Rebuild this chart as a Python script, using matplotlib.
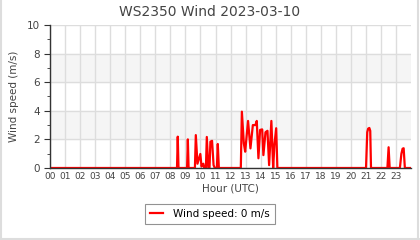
import matplotlib
matplotlib.use("Agg")
import matplotlib.pyplot as plt
from matplotlib.lines import Line2D

# wind speed readings (hour of day, m/s), zero outside the listed bursts
hours = [0, 8.44, 8.49, 8.54, 9.11, 9.16, 9.21, 9.63, 9.69, 9.8, 9.99, 10.07, 10.19, 10.25,
         10.36, 10.42, 10.52, 10.6, 10.66, 10.77, 10.87, 10.95, 11.09, 11.15, 11.22,
         12.68, 12.75, 12.88, 12.97, 13.16, 13.32, 13.48, 13.58, 13.65, 13.74, 13.85, 13.96,
         14.10, 14.18, 14.32, 14.45, 14.56, 14.71, 14.83, 14.91, 15.03, 15.11,
         21.0, 21.08, 21.14, 21.22, 21.28, 21.33,
         22.42, 22.5, 22.57,
         23.25, 23.35, 23.43, 23.5, 23.58, 24]
speed = [0, 0, 2.19, 0, 0, 2.0, 0, 0, 2.3, 0.3, 0.98, 0.1, 0.3, 0,
         0, 2.17, 0, 0, 1.84, 1.9, 0.2, 0, 0, 1.68, 0,
         0, 3.94, 1.72, 1.14, 3.29, 1.37, 3.0, 3.0, 3.0, 3.29, 0.68, 2.66,
         2.7, 0.9, 2.5, 2.6, 0.2, 3.29, 0, 1.6, 2.78, 0,
         0, 2.5, 2.75, 2.8, 2.6, 0,
         0, 1.45, 0,
         0, 1.0, 1.35, 1.38, 0, 0]

hour_labels = ["%02d" % h for h in range(24)]
title = "WS2350 Wind 2023-03-10"
legend_text = "Wind speed: 0 m/s"

txt = "#444444"
fig = plt.figure(figsize=(4.2, 2.4), dpi=100)
ax = fig.add_axes([0.119, 0.30, 0.86, 0.596])

# light bands 2-4 and 6-8
for lo in [2, 6]:
    ax.axhspan(lo, lo + 2, color="#f5f5f5", zorder=0)

ax.plot(hours, speed, color="red", lw=1.6, zorder=2, solid_joinstyle="round")

ax.set_xlim(0, 24)
ax.set_ylim(0, 10)
ax.set_xticks(range(24))
ax.set_xticklabels(hour_labels)
ax.set_yticks(range(0, 11, 2))
ax.set_yticks(range(1, 10, 2), minor=True)
ax.grid(True, color="#dddddd", lw=1, zorder=1)
ax.set_axisbelow(True)

for s in ["top", "right"]:
    ax.spines[s].set_visible(False)
for s in ["left", "bottom"]:
    ax.spines[s].set_color("#333333")
    ax.spines[s].set_linewidth(1)

ax.tick_params(axis="x", length=0, pad=3, labelsize=6.5, labelcolor=txt)
ax.tick_params(axis="y", which="major", length=4, colors="#333333", labelsize=7.5, labelcolor=txt)
ax.tick_params(axis="y", which="minor", length=2.5, colors="#333333")

ax.set_xlabel("Hour (UTC)", fontsize=7.5, color=txt, labelpad=2)
ax.set_ylabel("Wind speed (m/s)", fontsize=7.5, color=txt, labelpad=5)
fig.suptitle(title, fontsize=10, color=txt, y=0.98)

leg = fig.legend([ax.lines[0]], [legend_text], loc="center", bbox_to_anchor=(0.5, 0.108),
                 fontsize=7.5, frameon=True, fancybox=False, handlelength=1.2,
                 borderpad=0.5, handletextpad=1.0)
leg.get_frame().set_edgecolor("#777777")
leg.get_frame().set_linewidth(0.8)

# outer frame on left, right and bottom of the picture
frame_kw = dict(transform=fig.transFigure, color="#dddddd", lw=1.5)
fig.lines.append(Line2D([0.002, 0.002], [0, 1], **frame_kw))
fig.lines.append(Line2D([0.996, 0.996], [0, 1], **frame_kw))
fig.lines.append(Line2D([0, 1], [0.005, 0.005], **frame_kw))

fig.savefig("out.png", dpi=100)
